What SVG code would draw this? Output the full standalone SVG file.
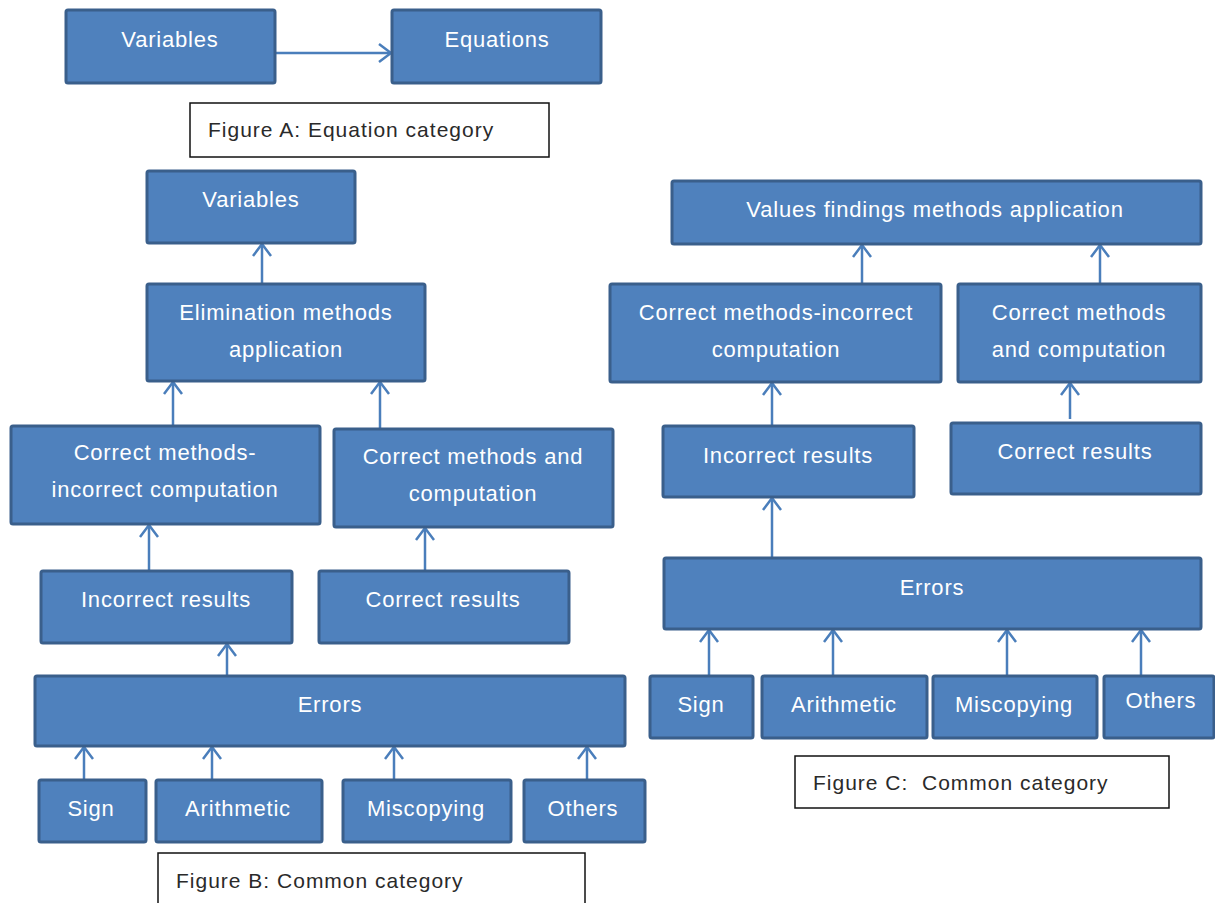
<svg xmlns="http://www.w3.org/2000/svg" width="1215" height="903" viewBox="0 0 1215 903">
  <style>
    .box { fill: #4F81BD; stroke: #3A5F8B; stroke-width: 3; }
    .lbl { fill: #FFFFFF; font-family: "Liberation Sans", Arial, sans-serif; font-size: 22px; letter-spacing: 0.8px; text-anchor: middle; }
    .cap { fill: #FFFFFF; stroke: #111111; stroke-width: 1.5; }
    .capt { fill: #2A2A2A; font-family: "Liberation Sans", Arial, sans-serif; font-size: 21px; letter-spacing: 1px; white-space: pre; }
    .link { stroke: #4A7EBB; stroke-width: 2.5; fill: none; marker-end: url(#open); }
  </style>
  <defs>
    <marker id="open" markerUnits="userSpaceOnUse" markerWidth="16" markerHeight="22" viewBox="0 0 16 22" refX="14" refY="11" orient="auto">
      <path d="M2,2 L14,11 L2,20" fill="none" stroke="#4A7EBB" stroke-width="2.5"/>
    </marker>
  </defs>

  <rect width="1215" height="903" fill="#FFFFFF"/>

  <!-- connectors -->
  <g id="connectors">
    <line class="link" x1="275" y1="53" x2="391" y2="53"/>
    <!-- figure B -->
    <line class="link" x1="262" y1="284" x2="262" y2="244"/>
    <line class="link" x1="173" y1="426" x2="173" y2="382"/>
    <line class="link" x1="380" y1="429" x2="380" y2="382"/>
    <line class="link" x1="149" y1="571" x2="149" y2="525"/>
    <line class="link" x1="425" y1="571" x2="425" y2="528"/>
    <line class="link" x1="227" y1="676" x2="227" y2="644"/>
    <line class="link" x1="84" y1="780" x2="84" y2="747"/>
    <line class="link" x1="212" y1="780" x2="212" y2="747"/>
    <line class="link" x1="394" y1="780" x2="394" y2="747"/>
    <line class="link" x1="587" y1="780" x2="587" y2="747"/>
    <!-- figure C -->
    <line class="link" x1="862" y1="284" x2="862" y2="245"/>
    <line class="link" x1="1100" y1="284" x2="1100" y2="245"/>
    <line class="link" x1="772" y1="426" x2="772" y2="383"/>
    <line class="link" x1="1070" y1="419" x2="1070" y2="383"/>
    <line class="link" x1="772" y1="558" x2="772" y2="498"/>
    <line class="link" x1="709" y1="676" x2="709" y2="630"/>
    <line class="link" x1="833" y1="676" x2="833" y2="630"/>
    <line class="link" x1="1007" y1="676" x2="1007" y2="630"/>
    <line class="link" x1="1141" y1="676" x2="1141" y2="630"/>
  </g>

  <!-- figure A -->
  <g id="a-variables"><rect class="box" x="66" y="10" width="209" height="73" rx="2"/><text class="lbl" x="170" y="47">Variables</text></g>
  <g id="a-equations"><rect class="box" x="392" y="10" width="209" height="73" rx="2"/><text class="lbl" x="497" y="47">Equations</text></g>
  <g id="caption-a"><rect class="cap" x="190" y="103" width="359" height="54"/><text class="capt" x="208" y="137">Figure A: Equation category</text></g>

  <!-- figure B -->
  <g id="b-variables"><rect class="box" x="147" y="171" width="208" height="72" rx="2"/><text class="lbl" x="251" y="207">Variables</text></g>
  <g id="b-elimination"><rect class="box" x="147" y="284" width="278" height="97" rx="2"/><text class="lbl" x="286" y="320">Elimination methods</text><text class="lbl" x="286" y="357">application</text></g>
  <g id="b-correct-methods-incorrect"><rect class="box" x="11" y="426" width="309" height="98" rx="2"/><text class="lbl" x="165" y="460">Correct methods-</text><text class="lbl" x="165" y="497">incorrect computation</text></g>
  <g id="b-correct-methods"><rect class="box" x="334" y="429" width="279" height="98" rx="2"/><text class="lbl" x="473" y="464">Correct methods and</text><text class="lbl" x="473" y="501">computation</text></g>
  <g id="b-incorrect-results"><rect class="box" x="41" y="571" width="251" height="72" rx="2"/><text class="lbl" x="166" y="607">Incorrect results</text></g>
  <g id="b-correct-results"><rect class="box" x="319" y="571" width="250" height="72" rx="2"/><text class="lbl" x="443" y="607">Correct results</text></g>
  <g id="b-errors"><rect class="box" x="35" y="676" width="590" height="70" rx="2"/><text class="lbl" x="330" y="712">Errors</text></g>
  <g id="b-sign"><rect class="box" x="39" y="780" width="107" height="62" rx="2"/><text class="lbl" x="91" y="816">Sign</text></g>
  <g id="b-arithmetic"><rect class="box" x="156" y="780" width="166" height="62" rx="2"/><text class="lbl" x="238" y="816">Arithmetic</text></g>
  <g id="b-miscopying"><rect class="box" x="343" y="780" width="168" height="62" rx="2"/><text class="lbl" x="426" y="816">Miscopying</text></g>
  <g id="b-others"><rect class="box" x="524" y="780" width="121" height="62" rx="2"/><text class="lbl" x="583" y="816">Others</text></g>
  <g id="caption-b"><rect class="cap" x="158" y="853" width="427" height="60"/><text class="capt" x="176" y="888">Figure B: Common category</text></g>

  <!-- figure C -->
  <g id="c-values"><rect class="box" x="672" y="181" width="529" height="63" rx="2"/><text class="lbl" x="935" y="217">Values findings methods application</text></g>
  <g id="c-correct-methods-incorrect"><rect class="box" x="610" y="284" width="331" height="98" rx="2"/><text class="lbl" x="776" y="320">Correct methods-incorrect</text><text class="lbl" x="776" y="357">computation</text></g>
  <g id="c-correct-methods"><rect class="box" x="958" y="284" width="243" height="98" rx="2"/><text class="lbl" x="1079" y="320">Correct methods</text><text class="lbl" x="1079" y="357">and computation</text></g>
  <g id="c-incorrect-results"><rect class="box" x="663" y="426" width="251" height="71" rx="2"/><text class="lbl" x="788" y="463">Incorrect results</text></g>
  <g id="c-correct-results"><rect class="box" x="951" y="423" width="250" height="71" rx="2"/><text class="lbl" x="1075" y="459">Correct results</text></g>
  <g id="c-errors"><rect class="box" x="664" y="558" width="537" height="71" rx="2"/><text class="lbl" x="932" y="595">Errors</text></g>
  <g id="c-sign"><rect class="box" x="650" y="676" width="103" height="62" rx="2"/><text class="lbl" x="701" y="712">Sign</text></g>
  <g id="c-arithmetic"><rect class="box" x="762" y="676" width="165" height="62" rx="2"/><text class="lbl" x="844" y="712">Arithmetic</text></g>
  <g id="c-miscopying"><rect class="box" x="933" y="676" width="164" height="62" rx="2"/><text class="lbl" x="1014" y="712">Miscopying</text></g>
  <g id="c-others"><rect class="box" x="1104" y="676" width="110" height="62" rx="2"/><text class="lbl" x="1161" y="708">Others</text></g>
  <g id="caption-c"><rect class="cap" x="795" y="756" width="374" height="52"/><text class="capt" x="813" y="790">Figure C:  Common category</text></g>
</svg>
